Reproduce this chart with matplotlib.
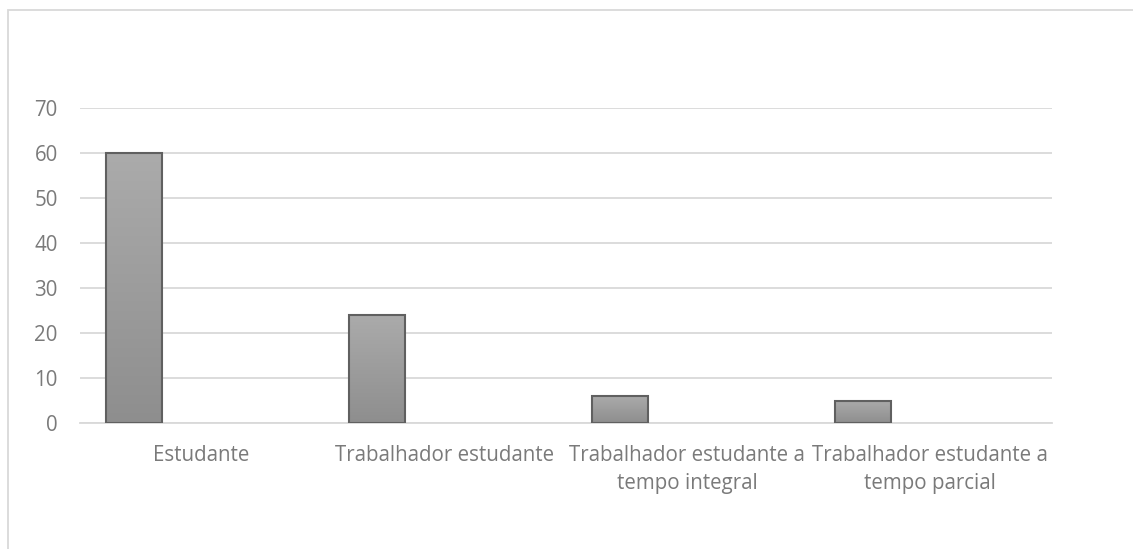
import matplotlib
matplotlib.use("Agg")
import matplotlib.pyplot as plt
import numpy as np
from matplotlib.patches import Rectangle
from matplotlib.colors import LinearSegmentedColormap

categories = ["Estudante", "Trabalhador estudante",
              "Trabalhador estudante a\ntempo integral",
              "Trabalhador estudante a\ntempo parcial"]
values = [60, 24, 6, 5]
yticks = [0, 10, 20, 30, 40, 50, 60, 70]

plt.rcParams['font.family'] = ['Open Sans', 'DejaVu Sans']

fig = plt.figure(figsize=(11.33, 5.49), dpi=100)
ax = fig.add_axes([0.0706, 0.2295, 0.8577, 0.5738])

x = np.arange(len(categories))
bw = 0.2305
offset = -0.278
bars = ax.bar(x + offset, values, width=bw, color='none', edgecolor='#606060',
              linewidth=1.5, zorder=3)

grad = np.linspace(0, 1, 256).reshape(-1, 1)
cmap = LinearSegmentedColormap.from_list('g', ['#8e8e8e', '#ababab'])
for b in bars:
    x0, y0 = b.get_x(), b.get_y()
    w, h = b.get_width(), b.get_height()
    im = ax.imshow(grad, extent=[x0, x0 + w, y0, y0 + h], origin='lower',
                   cmap=cmap, aspect='auto', zorder=2.5)
    im.set_clip_path(b)

ax.set_xlim(-0.5, len(categories) - 0.5)
ax.set_ylim(0, 70)
ax.set_yticks(yticks)
ax.set_xticks(x)
ax.set_xticklabels(categories, linespacing=1.45)
ax.tick_params(axis='both', length=0, labelsize=14.8)
ax.tick_params(axis='y', pad=16)
ax.tick_params(axis='x', pad=16)
for lab in ax.get_yticklabels() + ax.get_xticklabels():
    lab.set_color('#7a7a7a')
ax.grid(axis='y', color='#d9d9d9', linewidth=1.3, zorder=0)
ax.set_axisbelow(True)
for s in ['top', 'right', 'left']:
    ax.spines[s].set_visible(False)
ax.spines['bottom'].set_color('#d9d9d9')
ax.spines['bottom'].set_linewidth(1.3)

# outer chart border (cropped)
W, H = 1133, 549
fig.add_artist(Rectangle((8 / W, -0.1), 1.2, (549 - 10) / H + 0.1,
                         transform=fig.transFigure, fill=False,
                         edgecolor='#d9d9d9', linewidth=1.3))

fig.savefig("out.png", dpi=100)
